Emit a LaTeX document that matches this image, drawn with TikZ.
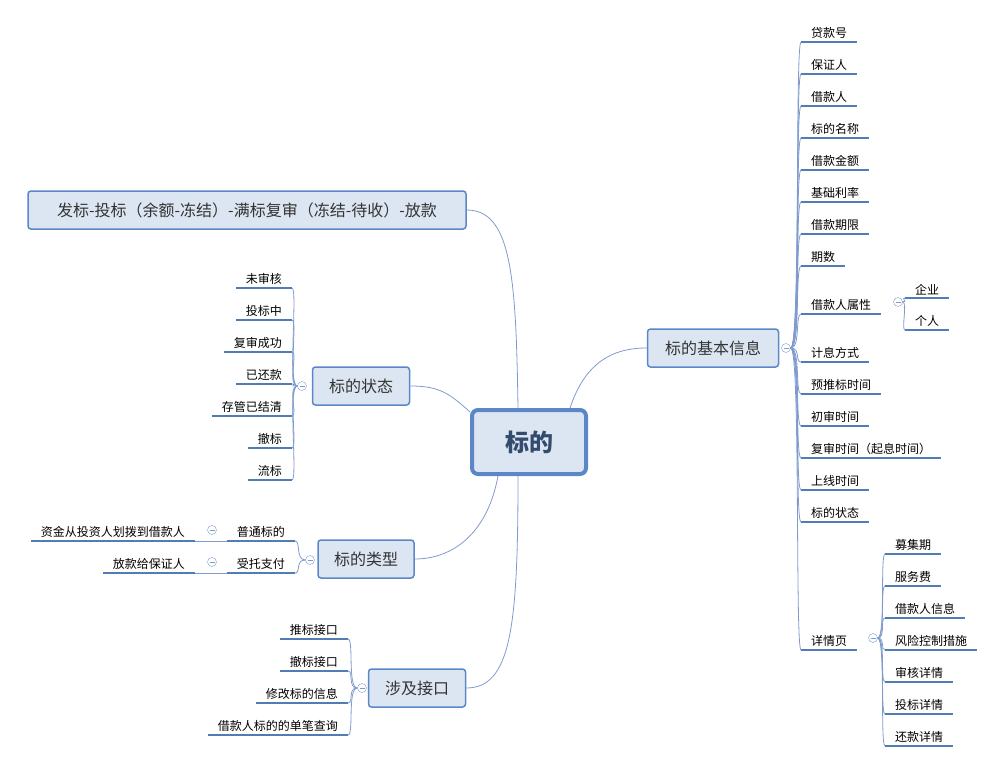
\documentclass[tikz,border=0pt]{standalone}
\usepackage{fontspec}
\setmainfont{Noto Sans CJK SC}
\usetikzlibrary{calc}
\definecolor{boxfill}{RGB}{220,230,242}
\definecolor{boxline}{RGB}{91,135,201}
\definecolor{boxtext}{RGB}{50,75,110}
\definecolor{ulcol}{RGB}{79,125,180}
\definecolor{linkcol}{RGB}{127,155,205}
\tikzset{
  root/.style={draw=boxline, line width=4pt, fill=boxfill, rounded corners=6pt,
    minimum width=114pt, minimum height=64pt, text=boxtext,
    font=\fontsize{24}{28}\selectfont\bfseries},
  topic/.style={draw=boxline, line width=1.5pt, fill=boxfill, rounded corners=3pt,
    minimum height=38pt, inner xsep=10pt, text=black!80,
    font=\fontsize{16}{19}\selectfont},
  uline/.style={draw=ulcol, line width=2pt},
  leaf/.style={font=\fontsize{12}{14}\selectfont, inner xsep=10pt, inner ysep=3pt, anchor=south west,
    append after command={(\tikzlastnode.south west) edge[uline] (\tikzlastnode.south east)}},
  leafl/.style={leaf, anchor=south east},
  link/.style={draw=linkcol, line width=0.8pt},
  fold/.style={circle, draw=linkcol, fill=white, minimum size=9pt, inner sep=0pt,
    path picture={\draw[linkcol] ([xshift=-2.5pt]path picture bounding box.center) -- ([xshift=2.5pt]path picture bounding box.center);}},
}
\begin{document}
\begin{tikzpicture}[x=1pt,y=-1pt]
  \useasboundingbox (0,0) rectangle (1007,765);

  % centre and main topics
  \node[root]  (root) at (529,442) {标的};
  \node[topic, minimum width=131pt] (basic) at (713,348) {标的基本信息};
  \node[topic, minimum width=97pt]  (state) at (361,386) {标的状态};
  \node[topic, minimum width=96pt]  (kind)  at (366,559) {标的类型};
  \node[topic, minimum width=97pt]  (api)   at (417,688) {涉及接口};
  \node[topic, minimum width=438pt] (flow)  at (247,210) {发标-投标（余额-冻结）-满标复审（冻结-待收）-放款};

  \draw[link] ($(root.north)+(-11,0)$) .. controls +(-2,-130) and +(45,0) .. (flow.east);
  \draw[link] ($(root.north east)+(-18,0)$) .. controls +(15,-45) and +(-35,0) .. (basic.west);
  \draw[link] ($(root.north west)+(0,4)$) .. controls +(-20,-18) and +(30,0) .. (state.east);
  \draw[link] ($(root.south west)+(28,0)$) .. controls +(-10,55) and +(40,0) .. (kind.east);
  \draw[link] ($(root.south)+(-11,0)$) .. controls +(0,150) and +(45,0) .. (api.east);

  % basic info
  \node[fold] (basic-f) at (786,348) {};
  \foreach \n/\y/\t in {loanno/31/贷款号, guar/63/保证人, borrower/95/借款人, title/127/标的名称,
      amount/159/借款金额, rate/191/基础利率, term/223/借款期限, periods/255/期数,
      attr/303/借款人属性, calc/351/计息方式, pretime/383/预推标时间, firstrev/415/初审时间,
      rerev/447/复审时间（起息时间）, online/479/上线时间, status/511/标的状态, detail/639/详情页}{
    \node[leaf] (\n) at (801,{\y+11}) {\t};
    \draw[link] (basic-f.east) .. controls +(10,0) and +(-6,0) .. (\n.south west);
  }

  \node[fold] (attr-f) at (898,302) {};
  \foreach \n/\y/\t in {firm/287/企业, person/319/个人}{
    \node[leaf] (\n) at (905,{\y+11}) {\t};
    \draw[link] (attr-f.east) .. controls +(5,0) and +(-4,0) .. (\n.south west);
  }

  \node[fold] (detail-f) at (873,638) {};
  \foreach \n/\y/\t in {raise/543/募集期, fee/575/服务费, binfo/607/借款人信息, risk/639/风险控制措施,
      audit/671/审核详情, bid/703/投标详情, repay/735/还款详情}{
    \node[leaf] (\n) at (885,{\y+11}) {\t};
    \draw[link] (detail-f.east) .. controls +(8,0) and +(-5,0) .. (\n.south west);
  }

  % state
  \node[fold] (state-f) at (302,386) {};
  \foreach \n/\y/\t in {unaudit/277/未审核, bidding/309/投标中, passed/341/复审成功,
      repaid/373/已还款, cleared/405/存管已结清, revoked/437/撤标, failed/469/流标}{
    \node[leafl] (\n) at (292,{\y+11}) {\t};
    \draw[link] (state-f.west) .. controls +(-10,0) and +(6,0) .. (\n.south east);
  }

  % kind
  \node[fold] (kind-f) at (310,560) {};
  \node[leafl] (normal)  at (295,541) {普通标的};
  \node[leafl] (entrust) at (295,573) {受托支付};
  \draw[link] (kind-f.west) .. controls +(-10,0) and +(6,0) .. (normal.south east);
  \draw[link] (kind-f.west) .. controls +(-10,0) and +(6,0) .. (entrust.south east);
  \node[fold] (normal-f)  at (212,530) {};
  \node[fold] (entrust-f) at (212,562) {};
  \node[leafl] (transfer) at (195,541) {资金从投资人划拨到借款人};
  \node[leafl] (payguar)  at (195,573) {放款给保证人};
  \draw[link] (normal.south west) -- (transfer.south east);
  \draw[link] (entrust.south west) -- (payguar.south east);

  % interfaces
  \node[fold] (api-f) at (362,688) {};
  \foreach \n/\y/\t in {push/628/推标接口, revoke/660/撤标接口, modify/692/修改标的信息,
      query/724/借款人标的的单笔查询}{
    \node[leafl] (\n) at (348,{\y+11}) {\t};
    \draw[link] (api-f.west) .. controls +(-10,0) and +(6,0) .. (\n.south east);
  }
\end{tikzpicture}
\end{document}
